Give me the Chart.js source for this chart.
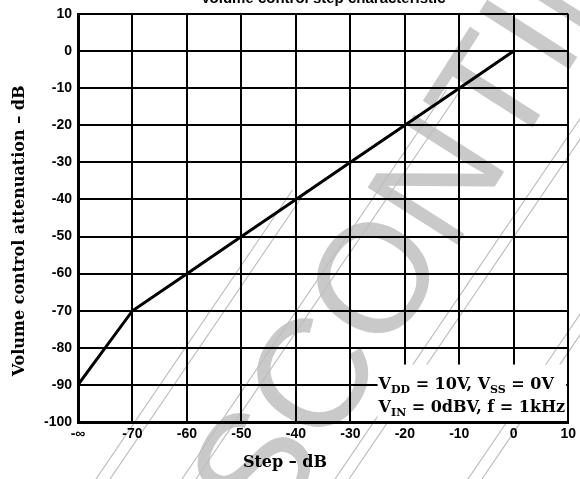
<!DOCTYPE html>
<html>
<head>
<meta charset="utf-8">
<script src="https://cdn.jsdelivr.net/npm/chart.js@4.4.1/dist/chart.umd.min.js"></script>
<style>
  html, body { margin: 0; padding: 0; background: #fff; overflow: hidden; }
  #wrap { width: 580px; height: 479px; overflow: hidden; position: relative; }
  #chart { position: absolute; top: -10px; left: 0; }
</style>
</head>
<body>
<div id="wrap"><canvas id="chart" width="580" height="489"></canvas></div>
<script>
// step setting in dB; -80 is where the "-∞" step sits on the axis
const steps = [-80, -70, -60, -50, -40, -30, -20, -10, 0]
const attenuation = [-90, -70, -60, -50, -40, -30, -20, -10, 0]
const xTickLabels = {"-80": "-∞"}
const chartTitle = "Volume control step characteristic"
const xTitle = "Step – dB"
const yTitle = "Volume control attenuation – dB"

var tickFont = { family: "'Liberation Sans', Arial, sans-serif", size: 14, weight: "bold" }
var serif = "'DejaVu Serif', 'Liberation Serif', serif"
var shiftY = 10   // canvas sits 10px above the page top

// thin scan lines of the stamp: [x at bottom edge, y where it stops]
var scanLines = [[96, 190], [182, 90], [335, 0], [468, 0], [590, 0]]

const extras = {
    id: "extras",
    beforeDraw(chart) {
        const ctx = chart.ctx
        ctx.save()
        // grey "DISCONTINUED" stamp across the sheet
        ctx.save()
        ctx.translate(468, 149 + shiftY)
        ctx.rotate(-57.5 * Math.PI / 180)
        ctx.fillStyle = "#c9c9c9"
        ctx.font = "155px 'Liberation Sans', Arial, sans-serif"
        ctx.textAlign = "center"
        ctx.textBaseline = "middle"
        ctx.fillText("DISCONTINUED", 0, 0)
        ctx.restore()
        ctx.strokeStyle = "#bdbdbd"
        ctx.lineWidth = 1.2
        scanLines.forEach(l => {
            [0, 14].forEach(off => {
                var x0 = l[0] + off, y0 = 479 + shiftY
                var y1 = l[1] + shiftY
                ctx.beginPath()
                ctx.moveTo(x0, y0)
                ctx.lineTo(x0 + (y0 - y1) * 0.68, y1)
                ctx.stroke()
            })
        })
        ctx.restore()
    },
    afterDraw(chart) {
        const ctx = chart.ctx
        const x = chart.scales.x, y = chart.scales.y
        const area = chart.chartArea
        ctx.save()
        ctx.fillStyle = "#000"
        ctx.font = "bold 16px " + serif
        ctx.textAlign = "center"
        ctx.textBaseline = "middle"
        // x axis title, sits a bit left of centre in the original
        ctx.fillText(xTitle, x.getPixelForValue(-42), area.bottom + 41)
        // y axis title, a little below the middle
        ctx.save()
        ctx.translate(20, y.getPixelForValue(-48.5))
        ctx.rotate(-Math.PI / 2)
        ctx.fillText(yTitle, 0, 0)
        ctx.restore()

        // conditions box
        const bx = x.getPixelForValue(-25)
        const by = y.getPixelForValue(-84.5)
        ctx.fillStyle = "#fff"
        ctx.fillRect(bx, by, area.right - 2 - bx, area.bottom - 1 - by)
        ctx.fillStyle = "#000"
        ctx.textAlign = "left"
        ctx.textBaseline = "alphabetic"
        function run(parts, px, py) {
            parts.forEach(p => {
                ctx.font = p.sub ? "bold 11px " + serif : "bold 16px " + serif
                ctx.fillText(p.t, px, py + (p.sub ? 4 : 0))
                px += ctx.measureText(p.t).width
            })
        }
        run([{t: "V"}, {t: "DD", sub: 1}, {t: " = 10V, V"}, {t: "SS", sub: 1}, {t: " = 0V"}], bx + 1, by + 24)
        run([{t: "V"}, {t: "IN", sub: 1}, {t: " = 0dBV, f = 1kHz"}], bx + 1, by + 47)
        ctx.restore()
    }
}

new Chart(document.getElementById("chart"), {
    type: "line",
    data: {
        datasets: [{
            data: steps.map((s, i) => ({ x: s, y: attenuation[i] })),
            borderColor: "#000",
            borderWidth: 3,
            pointRadius: 0,
            tension: 0,
            fill: false
        }]
    },
    options: {
        responsive: false,
        animation: false,
        layout: { padding: { left: 0, right: 11, top: 0, bottom: 0 } },
        plugins: {
            legend: { display: false },
            tooltip: { enabled: false },
            title: {
                display: true,
                text: chartTitle,
                fullSize: false,
                color: "#000",
                font: { family: "'Liberation Sans', Arial, sans-serif", size: 15, weight: "bold" },
                padding: { top: 0, bottom: 6 }
            }
        },
        scales: {
            x: {
                type: "linear",
                min: -80,
                max: 10,
                afterFit: s => { s.height = 57 },
                ticks: {
                    stepSize: 10,
                    color: "#000",
                    font: tickFont,
                    padding: 4,
                    maxRotation: 0,
                    callback: v => xTickLabels[v] || String(v)
                },
                grid: { color: "#000", lineWidth: 2, drawTicks: false },
                border: { color: "#000", width: 3 }
            },
            y: {
                min: -100,
                max: 10,
                afterFit: s => { s.width = 78 },
                ticks: {
                    stepSize: 10,
                    color: "#000",
                    font: tickFont,
                    padding: 6
                },
                grid: { color: "#000", lineWidth: 2, drawTicks: false },
                border: { color: "#000", width: 3 }
            }
        }
    },
    plugins: [extras]
});
</script>
</body>
</html>
